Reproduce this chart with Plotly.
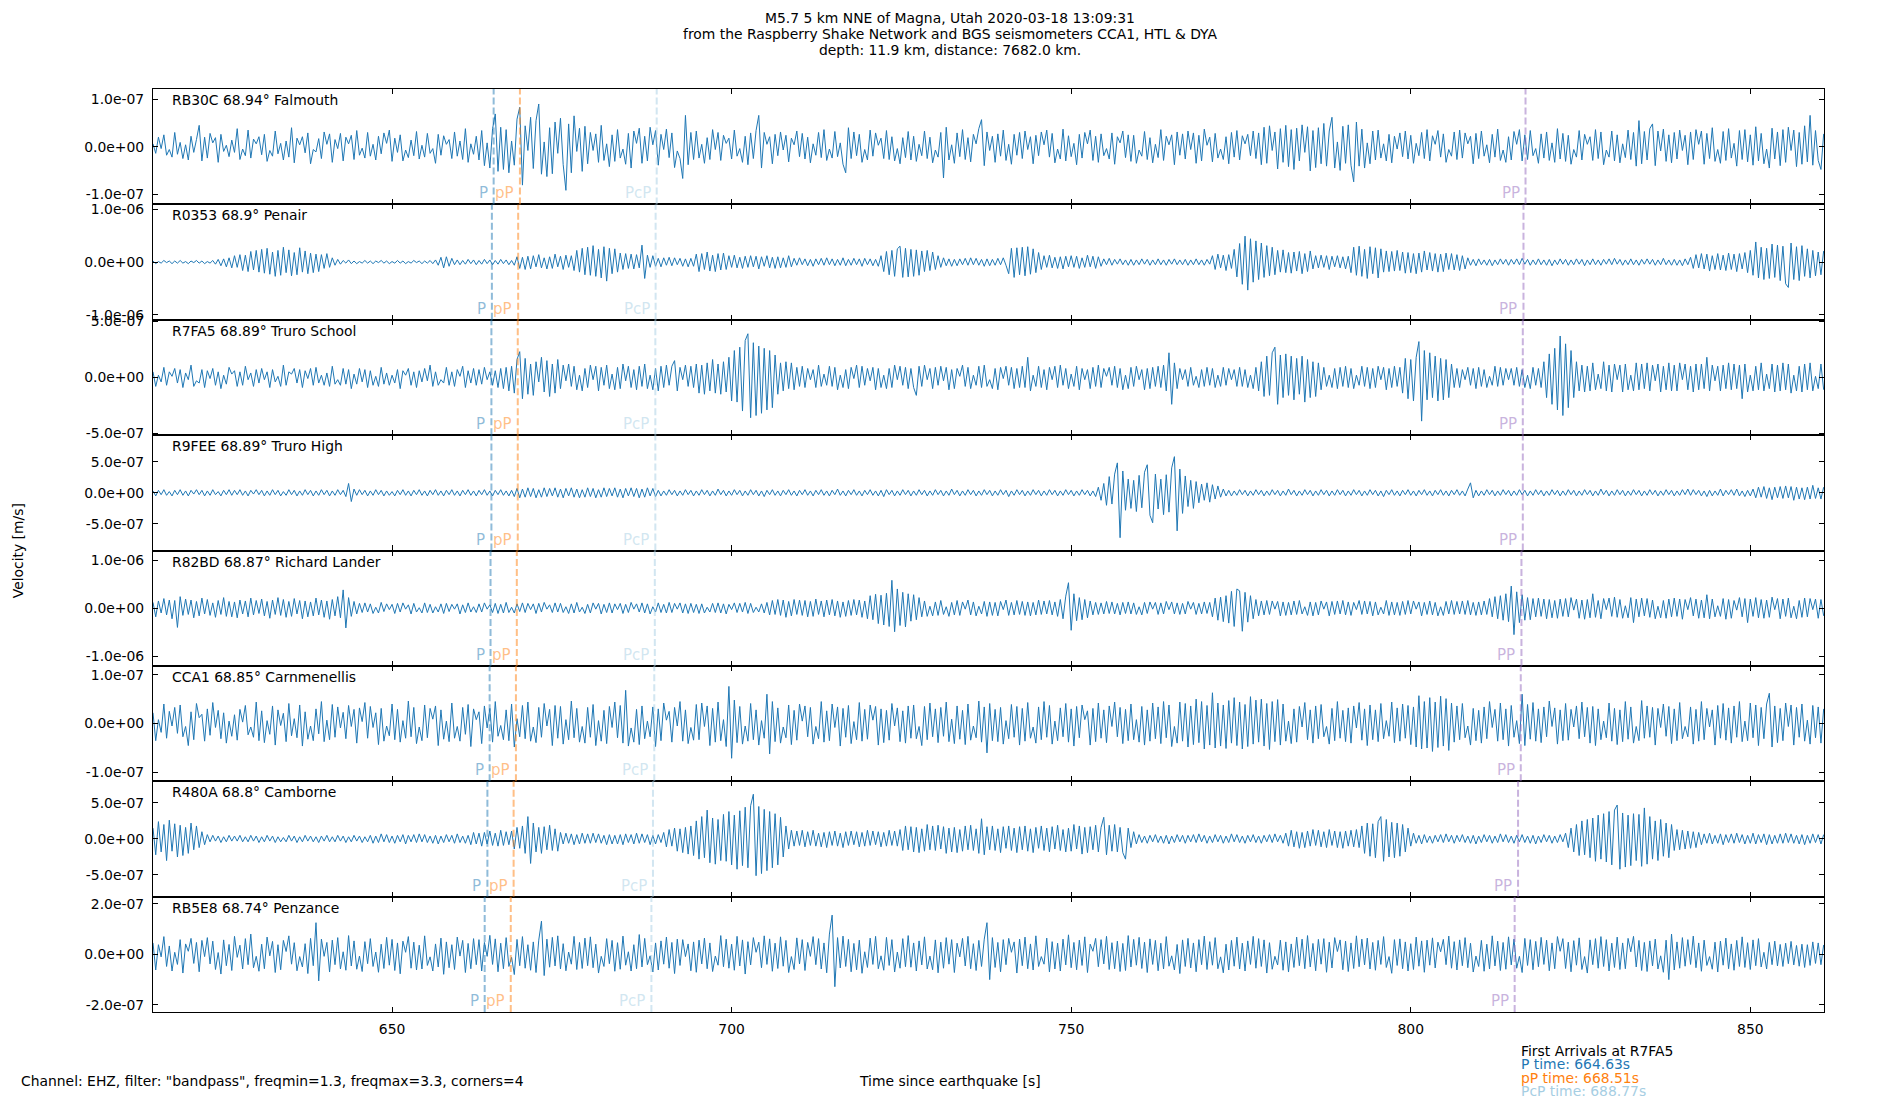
import plotly.graph_objects as go

# ---------------- data ----------------
STATIONS = ["RB30C", "R0353", "R7FA5", "R9FEE", "R82BD", "CCA1", "R480A", "RB5E8"]
DISTANCES = ["68.94", "68.9", "68.89", "68.89", "68.87", "68.85", "68.8", "68.74"]
PLACES = ["Falmouth", "Penair", "Truro School", "Truro High", "Richard Lander",
          "Carnmenellis", "Camborne", "Penzance"]

PHASES = ["P", "pP", "PcP", "PP"]
P_TIMES = [664.96, 664.70, 664.63, 664.63, 664.50, 664.37, 664.04, 663.64]
PP_DEPTH_TIMES = [668.83, 668.57, 668.51, 668.51, 668.37, 668.24, 667.90, 667.48]
PCP_TIMES = [688.97, 688.81, 688.77, 688.77, 688.69, 688.61, 688.42, 688.19]
PP_TIMES = [816.9, 816.6, 816.5, 816.5, 816.3, 816.2, 815.8, 815.3]

FIRST_ARRIVALS = {"P": 664.63, "pP": 668.51, "PcP": 688.77}

Y_LIMITS = [1.216e-7, 1.09e-6, 5.15e-7, 9.25e-7, 1.2e-6, 1.18e-7, 8.0e-7, 2.28e-7]
Y_TICK_STEPS = [1e-7, 1e-6, 5e-7, 5e-7, 1e-6, 1e-7, 5e-7, 2e-7]
X_TICKS = [650, 700, 750, 800, 850]
X_LIMITS = [614.8, 860.85]

T_START = 614.8   # first sample time [s]
T_STEP = 0.4      # sample spacing of the read-off values [s]

TRACE_UNITS = [1e-9, 1e-8, 1e-8, 1e-8, 1e-8, 1e-9, 1e-8, 1e-9]

RB30C = [
    6,-14,20,-4,25,-18,-6,-22,30,-16, 9,-25,4,-28,22,-12,15,45,-30,20, -24,28,8,19,-33,26,-10,3,-21,14, -12,38,-27,-5,-19,35,-24,16,6,21,
    -17,26,-31,-8,-20,33,-15,7,-28,12, -22,40,-34,18,4,21,-13,29,-36,-6, -11,17,-25,31,5,27,-33,15,-4,28, -30,20,6,24,-27,34,-18,-3,-24,30,
    -20,5,-28,22,-15,29,7,35,-31,18, -12,25,-30,-7,-23,14,-19,32,-26,3, -22,28,-14,-4,-35,26,-18,23,5,15, -25,31,-20,12,-27,38,-33,6,-16,22,
    -28,34,-40,8,-45,38,69,-52,41,-48, 36,-55,12,-39,58,83,-81,44,-8,62, -46,55,90,-58,10,-63,40,-57,52,-14, 60,-38,-92,48,-55,65,-10,39,-52,43,
    -36,30,-8,27,-33,45,-29,6,-42,25, -31,36,-24,-5,-37,28,-45,33,7,39, -35,22,-30,41,4,34,-39,26,-6,37, -23,29,-44,-9,-25,-67,66,-38,30,-27,
    33,-24,5,-35,19,-27,36,-6,30,-29, 24,7,18,-26,35,-20,-4,-33,22,-38, 29,-25,34,66,-45,30,5,21,-36,26, -19,31,-7,24,-32,18,4,33,-21,28,
    -26,20,-34,6,-18,30,-23,36,-29,-5, -24,32,-21,8,-37,-55,40,-25,31,-19, 26,-33,-6,-28,35,-20,29,3,18,-25, 34,-27,21,-30,-4,-36,19,-23,32,-28,
    22,-31,5,-19,33,-25,20,-34,-7,-22, 30,-66,41,-28,4,-35,29,-21,36,-27, 19,-32,26,6,38,57,-40,31,-8,22, -33,27,-20,35,-29,5,-37,26,-18,30,
    -25,33,-6,21,-36,24,-19,31,4,35, -22,28,-34,-5,-26,37,-30,23,-21,7, -38,26,-24,30,6,35,-29,22,-33,27, -19,-4,-26,29,-37,21,8,33,-23,25,
    -31,24,-35,-7,-20,32,-27,19,-34,5, -23,36,-29,22,4,25,-38,31,-18,27, -26,33,-6,29,-35,24,-30,37,3,20, -32,28,-24,-5,-27,21,-36,30,-22,34,
    -28,23,6,26,-19,33,-25,29,-38,41, -35,44,-8,31,-47,38,-33,45,-42,36, -48,39,-30,46,-12,42,-51,34,-44,40, -36,49,-41,33,62,-45,10,-50,43,-35,
    46,-39,-74,52,-41,37,-45,8,-36,33, -28,35,-24,6,-30,26,-34,22,-5,29, -21,33,-26,24,-35,7,-19,30,-25,36, -30,23,5,34,-22,27,-33,-6,-20,31,
    -27,35,-24,29,6,22,-36,28,-25,33, -20,4,-34,26,-22,37,-29,-7,-33,21, -28,32,5,36,-30,25,-27,34,-19,-4, -35,27,-24,31,-29,8,-33,38,-26,28,
    -31,24,-37,-6,-22,34,-28,26,5,21, -29,36,-25,31,-38,-7,-22,33,-30,25, -34,6,-23,35,-27,30,-41,55,-36,32, -28,38,48,-40,33,-9,37,-31,25,-34,
    30,-26,35,-8,24,-38,31,-27,36,5, 33,-37,28,-25,40,-31,-6,-35,32,-29, 38,-24,7,-41,34,-27,36,-32,25,-39, 42,-30,28,-36,-5,-45,39,-26,31,-40,
    36,-33,41,-8,35,-42,30,-37,44,-32, 66,-39,34,-29,-48,27,
]

R0353 = [
    2,-3,1,-2,3,-1,2,-3,2,-2, 3,-2,1,-3,2,-1,3,-2,2,-3, 1,-2,3,-4,5,-7,6,-9,8,-11, 12,-10,14,-16,13,-18,20,-15,22,-19,
    24,-21,26,-23,19,-27,22,-25,28,-20, 23,-26,18,-24,27,-19,21,-22,17,-20, 15,-18,14,-12,16,-10,8,-6,5,-4, 3,-2,4,-3,2,-3,1,-2,3,-2,
    2,-3,2,-1,3,-2,2,-3,1,-2, 3,-2,2,-3,1,-2,3,-1,2,-3, 2,-2,3,-3,4,-6,9,-11,10,-8, 7,-5,4,-5,3,-4,5,-3,4,-5,
    3,-4,5,-3,4,-5,3,-4,5,-3, 4,-5,3,-6,10,-12,9,-14,11,-13, 12,-9,14,-11,8,-13,10,-12,15,-9, 11,-14,13,-10,12,-16,22,-19,26,-24,
    28,-25,31,-27,24,-30,29,-36,26,-22, 25,-19,17,-14,16,-12,15,-13,14,-11, 32,-31,13,-10,12,-8,7,-9,8,-6, 9,-7,8,-5,7,-8,6,-9,7,-8,
    15,-18,16,-14,19,-17,13,-18,16,-15, 17,-14,12,-10,13,-11,9,-12,11,-10, 12,-9,11,-13,10,-8,12,-11,9,-12, 10,-11,8,-10,12,-9,7,-6,8,-5,
    6,-7,5,-8,6,-5,7,-6,8,-5, 6,-7,5,-6,8,-7,5,-6,7,-5, 6,-8,7,-5,6,-7,5,-8,12,-18, 20,-24,22,-27,25,30,-29,26,-28,24,
    -27,23,-25,21,-18,22,-16,19,-14,12, -10,8,-7,6,-8,5,-7,6,-5,7, -6,8,-5,7,-6,5,-8,6,-7,5, -6,7,-5,8,-6,-22,26,-29,27,-24,
    28,-26,29,-23,25,-20,18,-14,12,-10, 13,-11,9,-12,10,-13,11,-9,12,-10, 11,-12,8,-10,13,-9,11,-12,10,-8, 6,-5,7,-6,5,-4,6,-5,4,-6,
    5,-6,4,-5,6,-4,5,-6,4,-5, 6,-5,4,-6,5,-4,6,-5,4,-5, 5,-6,4,-5,6,-5,4,-6,5,-4, 12,-14,15,-11,13,-16,14,-12,24,-28,
    35,-42,49,-53,44,-38,40,-33,36,-29, 31,-26,28,-24,22,-19,23,-20,18,-21, 19,-17,20,-22,16,-18,21,-13,12,-11, 13,-10,12,-14,11,-9,12,-11,10,-13,
    11,-20,28,-25,30,-27,24,-31,29,-22, 27,-30,25,-19,21,-18,20,-17,22,-16, 19,-21,18,-20,16,-22,17,-19,21,-15, 18,-17,16,-19,15,-18,17,-14,16,-15,
    14,-16,12,-13,8,-6,5,-7,6,-5, 4,-6,5,-7,4,-5,6,-4,5,-6, 5,-4,6,-5,7,-4,5,-6,4,-5, 6,-5,4,-6,5,-7,4,-5,6,-4,
    5,-6,4,-5,6,-4,5,-7,4,-5, 6,-5,4,-6,5,-4,6,-5,7,-4, 5,-6,4,-5,6,-5,4,-6,5,-4, 6,-4,5,-6,4,-5,7,-5,4,-6,
    5,-6,4,-7,6,-5,9,-12,14,-11, 16,-13,15,-17,12,-14,16,-15,13,-16, 17,-14,15,-18,16,-13,18,-20,22,-25, 38,-30,28,-33,26,-31,34,-29,32,-35,
    30,-41,-48,36,-33,29,-35,31,-27,25, -30,22,-26,19,-24,21,
]

R7FA5 = [
    5,-8,2,-4,9,-7,5,1,8,-5, 7,-9,4,-2,11,-8,-3,-5,7,-9, 6,-1,8,-7,5,-10,2,-6,9,3, 6,-8,5,-7,10,-2,4,-8,7,-5,
    8,-2,5,-9,7,-4,1,-8,11,-7, 5,3,8,-5,7,-9,6,-1,8,-7, 9,-5,2,-7,4,-8,10,-6,-2,-7, 8,-6,7,-10,3,-6,8,-4,7,-9,
    6,-7,1,-8,9,-6,4,-7,2,-5, 7,-10,6,2,8,-7,5,-9,6,-4, 8,-3,11,-8,5,-7,-2,-5,9,-7, 5,-8,7,1,10,-9,6,-5,8,-7,
    7,-6,9,-2,5,-7,6,-9,8,-10, 9,-12,10,-14,16,23,-19,17,-15,12, -16,14,-4,18,-13,15,-17,12,-14,16, -10,11,-3,12,-8,10,-11,2,-12,8,
    -9,11,-2,10,-12,9,-7,11,-10,3, -11,9,-10,12,-3,10,-9,7,-11,10, -8,12,-10,2,-11,8,-12,10,-9,11, -7,10,15,-12,9,-2,11,-8,10,-9,
    12,-14,11,-15,13,-12,16,-14,12,-15, 14,-13,18,-21,24,-22,27,-30,33,39, -36,31,-34,28,-32,26,-29,24,-27,20, -15,13,-12,14,-10,13,-11,9,-8,10,
    -9,8,-2,7,-9,11,-8,3,-7,10, -8,9,-11,2,-9,7,-10,9,-1,11, -9,10,-7,8,-3,9,-11,8,-9,2, -10,8,-9,11,-2,10,-7,9,-10,8,
    -9,-16,10,-8,11,-2,8,-10,9,-7, 10,-3,9,-11,7,-10,8,1,11,-8, 9,-10,2,-7,10,-9,11,-8,-2,-10, 8,-11,9,-1,10,-7,9,-10,8,-9,
    10,-9,18,-12,2,-8,10,-9,7,-11, 9,-2,10,-9,11,-7,8,-10,3,-8, 10,-11,8,-2,7,-10,9,-8,11,-9, 8,1,9,-7,10,-9,8,-11,2,-10,
    9,-8,10,-2,7,-11,8,-10,9,-8, 10,-9,11,-12,22,-24,13,-10,8,-2, 7,-8,9,-7,1,-9,7,-8,9,-7, 8,-9,2,-8,9,-7,8,-2,7,-8,
    9,-8,7,-9,2,-10,9,-12,14,-17, 19,-16,22,27,-24,20,-18,21,-16,19, -20,17,-15,19,-22,16,-18,14,-17,13, -11,9,-8,2,-9,8,-10,9,-8,10,
    -9,8,-10,2,-7,10,-8,9,-10,8, -9,10,-2,9,-11,8,-9,10,-8,9, -14,17,-19,16,-21,18,32,-39,24,-20, 22,-18,19,-21,17,-20,16,-18,12,-9,
    8,-9,7,-2,9,-7,8,-10,9,-8, 7,-9,1,-7,10,-8,9,-7,8,-2, 8,-7,9,-8,7,-9,2,-10,9,-7, 8,-9,14,-18,21,-24,26,-29,37,-34,
    30,-27,24,-18,14,-12,11,-13,10,-12, 13,-11,3,-10,14,-12,11,-13,12,-2, 11,-13,12,-11,2,-12,13,-11,12,-10, 13,-12,11,-3,12,-13,10,-11,13,-12,
    11,-12,13,-2,12,-11,10,-13,12,-11, 12,-10,18,-12,11,-3,10,-12,11,-10, 13,-11,12,-10,11,-19,12,-13,2,-12, 10,-11,13,-12,3,-10,12,-13,11,-12,
    13,-11,12,-14,2,-12,10,-13,12,-11, 13,-12,1,-10,12,-11,
]

R9FEE = [
    3,-5,4,-3,5,-4,2,-5,4,-3, 5,-4,3,-5,4,-2,5,-3,4,-5, 3,-4,5,-3,2,-5,4,-3,5,-4, 4,-3,5,-4,3,-5,4,-2,5,-3,
    4,-5,3,-4,5,-3,4,-5,2,-4, 5,-3,4,-5,3,-4,5,-3,4,-5, 3,-4,5,-3,4,-5,3,-4,5,-3, 4,-6,15,-14,6,-4,5,-3,4,-5,
    3,-4,5,-3,4,-5,3,-4,2,-5, 4,-3,5,-4,3,-5,4,-3,5,-4, 3,-5,4,-3,5,-4,3,-5,4,-3, 5,-4,3,-5,4,-3,5,-4,3,-5,
    4,-3,5,-4,3,-5,4,-3,5,-4, 3,-5,4,-6,7,-8,6,-7,8,-6, 7,-8,5,-7,8,-6,7,-5,8,-7, 6,-8,7,-5,8,-7,6,-8,5,-7,
    8,-6,7,-8,5,-7,8,-6,7,-5, 8,-7,6,-8,7,-5,8,-6,7,-8, 6,-7,8,-5,7,-6,4,-5,3,-4, 5,-3,4,-5,3,-4,5,-3,4,-5,
    3,-4,5,-3,4,-5,3,-4,6,-3, 4,-5,3,-4,5,-3,4,-5,3,-4, 5,-3,4,-5,3,-6,4,-3,5,-4, 3,-5,4,-3,5,-4,3,-5,4,-3,
    5,-4,3,-5,4,-3,5,-4,3,-5, 4,-3,6,-4,3,-5,4,-3,5,-4, 3,-5,4,-3,5,-4,3,-5,4,-6, 5,-3,4,-5,3,-4,5,-3,4,-5,
    3,-4,5,-3,4,-5,3,-4,5,-3, 4,-5,3,-4,6,-3,4,-5,3,-4, 5,-3,4,-5,3,-4,5,-3,4,-5, 3,-4,5,-3,4,-6,3,-4,5,-3,
    4,-5,3,-4,5,-3,4,-5,3,-4, 5,-3,4,-5,3,-4,5,-3,4,-5, 3,-4,5,-3,4,-5,3,-6,9,-12, 15,-20,26,-18,30,48,-72,35,-28,22,
    -25,20,-30,28,-24,33,45,-36,-48,30, -26,22,-35,29,-31,40,58,-61,38,-33, 27,-22,20,-25,18,-16,14,-12,16,-15, 13,-10,11,-7,6,-5,4,-5,3,-4,
    5,-3,4,-5,3,-4,5,-3,4,-5, 3,-4,5,-3,4,-5,3,-4,6,-3, 4,-5,3,-4,5,-3,4,-5,3,-4, 5,-3,4,-5,3,-4,5,-3,4,-5,
    3,-4,5,-3,4,-5,3,-4,5,-3, 4,-5,3,-6,4,-3,5,-4,3,-5, 4,-3,5,-4,3,-5,4,-3,5,-4, 3,-5,4,-3,5,-4,3,-5,4,-3,
    5,-4,3,-5,6,16,-8,4,-5,3, -4,5,-3,4,-5,3,-4,5,-3,4, -5,3,-4,5,-3,4,-5,3,-4,5, -3,4,-5,3,-4,5,-3,4,-5,3,
    -4,5,-3,4,-5,3,-4,5,-3,4, -5,3,-4,6,-3,4,-5,3,-4,5, -3,4,-5,3,-4,5,-3,4,-5,3, -4,5,-3,4,-5,3,-4,5,-3,4,
    -5,3,-4,5,-3,6,-4,5,-3,4, -5,3,-6,4,-5,3,-4,6,-5,4, -3,5,-4,6,-5,3,-6,4,-5,6, -8,9,-7,10,-9,8,-11,9,-8,10,
    -9,11,-8,10,-12,9,-10,8,-11,9, -10,12,-9,8,-10,9,
]

R82BD = [
    12,-18,15,-10,20,-14,17,-22,16,-40, 24,-15,19,-13,17,-20,14,-16,21,-12, 18,-15,11,-19,16,-13,22,-17,14,-18, 13,-20,17,-12,15,-18,21,-14,16,-11,
    19,-16,14,-21,17,-13,22,-15,18,-19, 14,-17,20,-12,16,-22,15,-18,13,-16, 21,-14,17,-19,15,-23,18,-16,24,-20, 38,-41,22,-17,14,-12,10,-9,11,-8,
    9,-11,2,-10,12,-7,9,-3,8,-11, 10,-8,11,-2,7,-12,10,-8,1,-10, 11,-9,8,-10,3,-8,9,-11,10,-7, 8,-2,9,-12,7,-9,11,-8,3,-9,
    9,-8,11,-2,7,-9,10,-11,8,-10, 12,-9,2,-10,9,-7,11,-9,10,-3, 9,-11,10,-8,12,-2,7,-9,11,-8, 10,-9,3,-11,9,-10,12,-8,2,-11,
    8,-10,11,-2,10,-12,8,-9,11,-10, 9,-3,10,-11,8,-9,12,-2,9,-8, 11,-10,9,-12,3,-8,11,-9,8,-10, 12,-9,10,-2,11,-10,9,-11,10,-9,
    8,-11,9,-10,2,-8,10,-9,11,-10, 9,-12,8,-3,11,-9,10,-8,12,-11, 10,-9,2,-8,9,-10,12,-14,16,-13, 18,-15,17,-19,14,-16,18,-13,17,-15,
    16,-18,14,-17,19,-13,15,-18,17,-14, 18,-16,15,-19,13,-17,16,-15,18,-14, 17,-19,15,-22,26,-24,29,-32,27,-35, 31,-38,58,-49,40,-36,33,-39,30,-27,
    28,-24,22,-18,15,-17,4,-16,13,-15, 16,-13,3,-17,12,-14,16,-15,13,-2, 17,-14,13,-16,4,-12,14,-17,13,-15, 12,-16,14,-3,17,-15,12,-14,16,-13,
    14,-15,13,-16,12,-14,17,-13,15,-12, 16,-14,13,-17,18,-22,25,53,-46,30, -26,22,-24,18,-20,15,-14,12,-13,11, -12,14,-11,13,-12,10,-14,12,-11,13,
    -12,11,-13,3,-14,12,-11,13,-2,12, -13,11,-12,14,-3,13,-12,11,-13,10, -12,14,-2,12,-13,10,-12,13,-11,12, -18,21,-25,23,-28,26,-31,35,-38,40,
    36,-48,33,-29,26,-22,18,-16,15,-14, 16,-13,15,-2,14,-16,13,-15,12,-14, 15,-13,16,-12,3,-15,13,-16,12,-14, 15,-2,13,-16,14,-13,15,-12,16,-14,
    13,-15,12,-3,16,-13,15,-12,14,-16, 13,-14,2,-12,16,-15,13,-14,12,-15, 14,-13,16,-12,15,-2,13,-16,12,-13, 15,-14,12,-16,3,-15,14,-12,16,-13,
    14,-12,15,-13,16,-14,12,-15,13,-14, 15,-13,20,-18,24,-22,26,-25,30,-28, 46,-55,34,-30,28,-25,22,-24,20,-18, 21,-17,19,-22,18,-20,16,-21,19,-17,
    20,-18,22,-4,19,-21,17,-23,18,-20, 30,-19,16,-22,20,-3,21,-17,23,-19, 18,-21,5,-20,22,-30,19,-18,21,-16, 20,-19,17,-22,4,-20,16,-21,19,-18,
    21,-17,19,-23,18,-3,22,-16,19,-21, 17,-20,28,-22,19,-18,5,-17,20,-23, 18,-21,16,-4,22,-18,20,-30,19,-17, 22,-20,18,-21,17,-19,23,-3,20,-22,
    19,-17,21,-20,4,-22,16,-19,21,-18, 20,-3,19,-21,18,-16,
]

CCA1 = [
    22,-35,8,-18,40,-30,25,-5,33,-20, 38,-27,-6,-45,24,-33,41,12,19,-36, 30,-24,43,-8,27,-31,22,-40,5,-26, 18,-34,29,3,37,-23,-7,-28,44,-35,
    26,-39,6,-22,36,-44,28,-4,21,-37, 41,-25,10,-29,38,-46,24,-32,-5,-35, 30,-21,45,-37,7,-33,39,-28,34,-9, 23,-31,37,-6,29,-40,32,4,43,-30,
    35,-8,22,-43,31,-36,-5,-25,40,-33, 29,-38,6,-30,46,-27,33,-41,-7,-35, 38,-29,31,9,36,-45,28,-32,5,-37, 42,-30,-6,-36,33,-22,39,-47,30,8,
    24,-41,36,-9,31,-38,45,-26,-4,-33, 28,-35,40,-48,10,-27,37,-31,44,-36, -7,-39,33,-28,41,-5,29,-45,37,-30, 35,-42,8,-33,46,-29,31,-38,-6,-40,
    33,-28,39,-45,6,-36,27,-41,35,-8, 44,-29,37,-40,68,-46,-9,-38,29,-43, 36,-31,5,-27,34,-47,30,-35,42,7, 25,-38,33,-5,45,-36,28,-41,-8,-34,
    39,-33,42,-6,36,-45,31,-38,44,-35, 8,-47,76,-71,48,-39,35,-42,-5,-36, 41,-33,28,-44,6,-30,60,-62,45,-37, 32,-40,-7,-29,38,-43,27,-34,40,5,
    36,-27,33,-42,-6,-31,45,-38,26,-35, 40,-8,34,-46,31,-28,37,-41,4,-33, 43,-36,29,-32,38,7,35,-44,30,-39, 27,-34,41,-5,32,-37,26,-40,36,-30,
    38,-31,-6,-45,35,-33,42,-27,30,-39, 33,-26,44,-37,9,-41,36,-32,27,-43, 40,-34,-5,-29,46,-38,34,-60,41,-35, 29,-37,33,-42,6,-31,39,-28,35,-44,
    31,-36,43,-30,-7,-40,34,-33,45,-28, 37,-42,5,-35,32,-27,41,-38,30,-46, 35,-29,38,8,26,-44,31,-37,42,-30, 28,-39,36,-6,44,-27,33,-41,29,-35,
    40,-33,8,-38,35,-44,28,-36,42,-31, 34,-41,45,-29,38,-47,-6,-40,44,-36, 41,-48,36,-43,50,-39,45,-52,37,-44, 63,-50,42,-46,38,-51,47,-40,53,-45,
    44,-52,39,-47,55,-42,48,-38,50,-46, 41,-53,45,-37,49,-44,40,-36,5,-41, 30,-38,35,-7,43,-33,28,-40,36,-31, 39,-27,-6,-42,31,-35,45,-30,27,-37,
    32,-40,36,-9,43,-34,30,-45,38,-33, 28,-37,41,-31,6,-26,44,-39,32,-36, 40,-30,37,-43,34,-48,57,-52,45,-50, 53,-57,44,-49,56,-46,51,-55,42,-38,
    36,-33,41,-29,-5,-44,31,-35,27,-40, 34,-31,45,-8,29,-36,42,-33,30,-46, 37,-28,6,-41,60,-45,39,-32,43,-36, 30,-39,34,-27,46,-6,32,-42,28,-35,
    41,-34,29,-7,36,-31,44,-27,33,-40, 35,-45,30,-33,5,-29,42,-36,31,-43, 28,-37,45,-32,34,-40,-6,-35,47,-30, 36,-28,33,-44,31,-8,40,-26,35,-41,
    30,-35,43,-31,-6,-27,34,-42,29,-36, 45,-33,31,-7,28,-44,37,-30,41,-34, 32,-40,36,-28,45,-37,5,-35,42,-29, 38,-45,33,-31,40,62,-48,36,-39,31,
    -35,42,-6,38,-44,33,-28,40,-36,7, -42,37,-29,34,-40,30,
]

R480A = [
    15,-22,24,-18,20,-30,26,-17,21,-25, 19,-23,16,-20,22,-15,18,-12,10,-8, 6,-4,5,-3,4,-5,3,-4,5,-3, 4,-3,5,-4,3,-4,5,-3,4,-5,
    3,-4,5,-3,4,-5,3,-4,2,-4, 5,-3,4,-5,3,-4,5,-3,4,-4, 3,-5,4,-3,5,-4,3,-4,5,-3, 4,-5,3,-4,5,-3,4,-5,3,-4,
    5,-6,4,-5,7,-4,6,-5,4,-6, 5,-4,6,-7,5,-4,6,-5,7,-4, 6,-5,4,-6,5,-7,4,-5,6,-4, 5,-6,7,-5,4,-6,5,-8,9,-7,
    8,-10,9,-7,11,-9,8,-10,12,-9, 10,-8,11,-14,16,-13,18,-20,31,-34, 22,-18,16,-20,17,-15,19,-16,14,-17, 9,-7,8,-6,7,-8,6,-7,8,-6,
    7,-6,8,-5,7,-6,5,-8,6,-7, 5,-7,6,-8,7,-5,6,-7,8,-6, 7,-5,6,-8,5,-7,6,-5,9,-11, 13,-10,15,-17,14,-19,16,-21,18,-23,
    25,-28,31,-26,40,-33,29,-35,27,-30, 34,-31,38,-36,33,-42,39,-37,44,-40, 46,62,-51,45,-48,41,-44,38,-40,35, -36,30,-25,18,-14,12,-10,11,-9,12,
    -11,10,-9,12,-10,8,-11,9,-12,10, -9,11,-10,8,-12,10,-9,11,-8,10, -11,9,-10,12,-9,11,-8,10,-11,9, -10,12,-9,11,-10,13,-16,18,-15,17,
    -18,16,-19,14,-17,20,-15,18,-16,19, -14,17,-20,15,-18,16,-19,13,-17,18, -15,19,-16,14,-20,28,-22,17,-15,18, -16,14,-19,17,-13,18,-16,15,-19,17,
    -15,18,-17,14,-19,16,-13,18,-16,15, -18,17,-14,19,-16,13,-18,15,-17,20, -14,18,-21,16,-19,17,-15,19,-18,16, 30,-22,19,-17,20,-18,16,-19,-28,15,
    -12,10,-7,6,-5,4,-6,5,-4,6, -5,4,-6,5,-7,4,-5,6,-4,5, -6,5,-4,6,-5,7,-4,5,-6,4, -5,6,-4,5,-6,4,-5,7,-4,6,
    -5,4,-6,5,-4,6,-5,4,-6,5, -4,6,-5,7,-4,5,-6,8,-10,12, -11,10,-13,9,-12,11,-10,13,-9,12, -11,10,-12,13,-9,11,-12,10,-13,11,
    -10,12,-11,13,-12,18,-20,22,-24,21, -26,24,31,-31,27,-25,23,-26,22,-24, 20,-18,15,-10,8,-6,5,-7,6,-5, 4,-6,5,-4,6,-5,7,-4,5,-6,
    5,-4,6,-5,4,-6,5,-7,4,-5, 6,-4,5,-6,4,-5,7,-4,6,-5, 4,-6,5,-4,6,-5,4,-6,5,-7, 4,-5,6,-4,5,-6,4,-5,6,-4,
    8,-12,15,-18,20,-23,25,-22,27,-26, 29,-31,33,-28,35,-32,38,-36,40,47, -42,36,-39,33,-37,35,-30,34,-38,43, -35,31,-28,25,-30,27,-24,22,-26,20,
    -16,13,-15,12,-14,11,-13,10,-12,9, -8,7,-6,8,-7,5,-6,7,-8,6, -5,7,-6,8,-5,6,-7,5,-6,8, -7,6,-5,7,-8,6,-7,5,-6,7,
    -6,8,-5,7,-6,5,-7,6,-8,5, -6,7,-5,6,-7,6,
]

RB5E8 = [
    45,-62,38,-10,70,-48,33,-66,8,-40, 58,-74,41,12,63,-36,47,-69,55,-9, 66,-38,52,-60,7,-78,57,-45,39,-64, 71,-12,36,-58,62,-41,80,-53,-8,-67,
    40,-57,68,-6,51,-72,38,-61,55,11, 73,-39,46,-65,-9,-50,42,-76,63,-45, 125,-105,60,-8,47,-70,56,-41,66,-58, 10,-63,74,-46,53,-59,-7,-68,50,-37,
    62,-48,9,-71,40,-56,67,-43,59,-64, 45,-77,52,8,70,-55,48,-62,36,-58, 73,-44,-10,-66,41,-50,64,-79,49,-53, 38,-60,68,-7,55,-72,43,-57,62,-41,
    58,-66,47,-8,75,-40,61,-69,44,-57, 66,-48,-12,-80,59,-45,70,-55,38,-63, 49,-72,56,131,-84,60,-51,67,-46,73, -58,42,-65,9,-39,71,-60,47,-56,64,
    -45,69,-53,40,-74,-8,-48,62,-37,55, -67,46,-59,72,-43,10,-66,38,-57,78, -50,63,-41,-6,-70,45,-62,53,-39,68, -55,47,-76,60,-44,58,-9,41,-65,49,
    -71,56,-38,64,-57,45,-68,-7,-43,74, -49,60,-55,40,-63,71,-46,57,-78,50, -42,66,8,48,-53,73,-40,61,-67,44, -56,69,-47,55,-72,-9,-60,65,-38,58,
    -64,47,-8,70,-41,62,-58,45,-73,80, 155,-128,66,-54,72,-48,59,-69,43,-61, 56,-75,10,-52,64,-40,71,-57,-6,-63, 67,-44,58,-70,9,-55,62,-49,74,-51,
    45,-66,53,-42,69,-58,-7,-61,57,-73, 48,-55,66,-39,58,-72,44,-10,63,-46, 71,-57,42,-64,55,-48,60,125,-100,66, -52,47,-69,58,-41,63,8,49,-74,60,
    -45,68,-57,41,-62,73,-48,-9,-39,64, -70,50,-58,44,-66,60,-42,77,-53,47, -61,56,-44,69,-72,40,12,63,-49,58, -38,71,-60,46,-57,52,-68,43,-64,74,
    -50,59,-43,67,-56,48,-72,61,-40,55, -65,44,-58,70,-47,-6,-62,39,-76,57, -48,63,-54,45,-69,58,-41,72,-60,50, -43,66,-57,-10,-73,40,-62,55,-47,68,
    -58,44,-66,53,-40,71,-55,62,-48,57, -74,46,-59,-8,-42,56,-63,49,-70,41, -52,68,-45,60,-57,74,-50,43,-65,59, -39,62,-71,48,-54,66,11,57,-61,52,
    -68,45,-56,73,-49,60,-42,64,-58,47, -63,55,-40,70,-52,-9,-75,58,-44,61, -57,49,-66,42,-60,68,-47,53,-71,56, -43,65,-54,48,10,59,-41,72,-55,50,
    -62,57,-45,66,-53,44,-70,-7,-48,55, -67,40,-58,73,-46,52,-64,47,-59,69, -42,60,-55,-8,-72,63,-44,58,-61,51, -49,67,-40,56,-65,45,-57,70,12,62,
    -56,48,-69,54,-43,65,-60,-9,-74,57, -41,62,-55,70,-48,58,-66,44,-52,68, -60,45,-57,63,10,71,-50,55,-64,47, -68,53,-46,60,-58,-6,-71,56,-100,80,
    -62,49,-55,66,-47,58,-40,72,-53,45, -67,56,-44,-9,-59,48,-70,52,-43,64, -57,41,-63,55,-48,69,-52,46,-60,57, -45,62,-50,8,-58,47,-41,52,-46,39,
    -48,44,-37,51,-42,35,-47,40,-52,38, -44,49,-36,45,-41,37,
]

TRACES = [RB30C, R0353, R7FA5, R9FEE, R82BD, CCA1, R480A, RB5E8]

TITLE_LINES = [
    "M5.7 5 km NNE of Magna, Utah 2020-03-18 13:09:31",
    "from the Raspberry Shake Network and BGS seismometers CCA1, HTL & DYA",
    "depth: 11.9 km, distance: 7682.0 km.",
]
FOOTNOTE = 'Channel: EHZ, filter: "bandpass", freqmin=1.3, freqmax=3.3, corners=4'
X_TITLE = "Time since earthquake [s]"
Y_TITLE = "Velocity [m/s]"
ARRIVALS_TITLE = "First Arrivals at R7FA5"

# ---------------- styles ----------------
W, H = 1900, 1100
ML, MR, MT, MB = 152.5, 76, 88.5, 88
PW, PH = W - ML - MR, H - MT - MB
FONT = "DejaVu Sans"
FS = 13.9
TRACE_COLOR = "#1f77b4"
PHASE_COLORS = {"P": "rgba(31,119,180,0.5)", "pP": "rgba(255,127,14,0.5)",
                "PcP": "rgba(166,206,227,0.5)", "PP": "rgba(148,103,189,0.5)"}
ARRIVAL_TEXT_COLORS = {"P": "#1f77b4", "pP": "#ff7f0e", "PcP": "#a6cee3"}


def paper(px, py):
    return (px - ML) / PW, (H - MB - py) / PH


n_panels = len(STATIONS)
fig = go.Figure()
layout = dict(
    width=W, height=H,
    margin=dict(l=ML, r=MR, t=MT, b=MB, pad=0),
    paper_bgcolor="white", plot_bgcolor="white",
    showlegend=False,
    font=dict(family=FONT, size=FS, color="black"),
)
shapes = []
annotations = []
phase_times = [P_TIMES, PP_DEPTH_TIMES, PCP_TIMES, PP_TIMES]

for k in range(n_panels):
    idx = "" if k == 0 else str(k + 1)
    xa, ya = "x" + idx, "y" + idx
    vals = [v * TRACE_UNITS[k] for v in TRACES[k]]
    times = [T_START + T_STEP * i for i in range(len(vals))]
    fig.add_trace(go.Scatter(x=times, y=vals, mode="lines", xaxis=xa, yaxis=ya,
                             line=dict(color=TRACE_COLOR, width=1), hoverinfo="skip"))
    top = 1 - k / n_panels
    bot = 1 - (k + 1) / n_panels
    step = Y_TICK_STEPS[k]
    yt = [-step, 0.0, step]
    layout["xaxis" + idx] = dict(
        domain=[0, 1], anchor=ya, range=X_LIMITS, tickvals=X_TICKS,
        ticktext=[str(v) for v in X_TICKS],
        showticklabels=(k == n_panels - 1),
        ticks="inside", ticklen=5, tickwidth=1.1, tickcolor="black",
        showline=True, linecolor="black", linewidth=1.1, mirror="allticks",
        showgrid=False, zeroline=False,
        tickfont=dict(family=FONT, size=FS, color="black"),
        ticklabelstandoff=4,
        **({} if k == 0 else {"matches": "x"}),
    )
    layout["yaxis" + idx] = dict(
        domain=[bot, top], anchor=xa, range=[-Y_LIMITS[k], Y_LIMITS[k]],
        tickvals=yt, ticktext=[f"{v:.1e}" for v in yt],
        ticks="inside", ticklen=5, tickwidth=1.1, tickcolor="black",
        showline=True, linecolor="black", linewidth=1.1, mirror="allticks",
        showgrid=False, zeroline=False,
        tickfont=dict(family=FONT, size=FS, color="black"),
        ticklabelstandoff=5,
    )
    # station label
    annotations.append(dict(
        text=f"{STATIONS[k]} {DISTANCES[k]}° {PLACES[k]}",
        xref=xa + " domain", yref=ya + " domain", x=0.01, y=1,
        xanchor="left", yanchor="top", yshift=-1, showarrow=False,
        font=dict(family=FONT, size=FS, color="black"),
    ))
    # phase arrivals
    for ph, tlist in zip(PHASES, phase_times):
        t = tlist[k]
        shapes.append(dict(
            type="line", xref=xa, yref=ya + " domain", x0=t, x1=t, y0=0, y1=1,
            line=dict(color=PHASE_COLORS[ph], width=2, dash="7px,3px"), layer="above",
        ))
        annotations.append(dict(
            text=ph, xref=xa, yref=ya + " domain", x=t, y=0,
            xanchor="right", yanchor="bottom", xshift=-4, yshift=0, showarrow=False,
            font=dict(family=FONT, size=15, color=PHASE_COLORS[ph]),
        ))

# titles and texts
title_y = [17.3, 33.3, 49.3]
for line, py in zip(TITLE_LINES, title_y):
    x, y = paper(950, py)
    annotations.append(dict(text=line, xref="paper", yref="paper", x=x, y=y,
                            xanchor="center", yanchor="middle", showarrow=False,
                            font=dict(family=FONT, size=FS, color="black")))

x, y = paper(17.5, 551)
annotations.append(dict(text=Y_TITLE, xref="paper", yref="paper", x=x, y=y, textangle=-90,
                        xanchor="center", yanchor="middle", showarrow=False,
                        font=dict(family=FONT, size=FS, color="black")))
x, y = paper(950, 1081)
annotations.append(dict(text=X_TITLE, xref="paper", yref="paper", x=x, y=y,
                        xanchor="center", yanchor="middle", showarrow=False,
                        font=dict(family=FONT, size=FS, color="black")))
x, y = paper(18, 1081)
annotations.append(dict(text=FOOTNOTE, xref="paper", yref="paper", x=x, y=y,
                        xanchor="left", yanchor="middle", showarrow=False,
                        font=dict(family=FONT, size=FS, color="black")))

arr_lines = [(ARRIVALS_TITLE, "black")] + [
    (f"{ph} time: {FIRST_ARRIVALS[ph]:.2f}s", ARRIVAL_TEXT_COLORS[ph]) for ph in ["P", "pP", "PcP"]
]
arr_y = [1050.7, 1064.5, 1078, 1091.5]
for (txt, col), py in zip(arr_lines, arr_y):
    x, y = paper(1519, py)
    annotations.append(dict(text=txt, xref="paper", yref="paper", x=x, y=y,
                            xanchor="left", yanchor="middle", showarrow=False,
                            font=dict(family=FONT, size=FS, color=col)))

layout["shapes"] = shapes
layout["annotations"] = annotations
fig.update_layout(**layout)

fig.write_html("out.html", config={"displayModeBar": False},
               post_script="document.body.style.margin='0';document.body.style.overflow='hidden';")
